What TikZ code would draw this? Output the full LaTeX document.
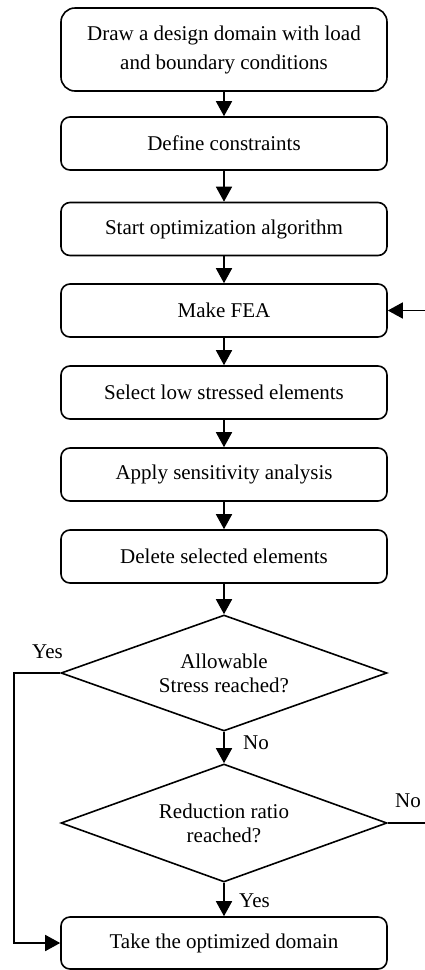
\documentclass[tikz,border=0pt]{standalone}
\usepackage{fontspec}
\setmainfont{Liberation Serif}
\usetikzlibrary{shapes.geometric,arrows.meta}
\begin{document}
\begin{tikzpicture}[x=1pt,y=-1pt,
  every node/.style={font=\fontsize{21}{29}\selectfont},
  box/.style={draw, line width=1.6pt, rounded corners=9pt, minimum width=326pt, minimum height=53pt, inner sep=0pt, align=center},
  dec/.style={draw, diamond, shape aspect=2.8, line width=1.6pt, minimum width=326pt, minimum height=116pt, inner sep=0pt, align=center, font=\fontsize{21}{24}\selectfont},
  arr/.style={line width=1.6pt, -{Triangle[length=15pt,width=16pt]}},
  lbl/.style={inner sep=0pt, anchor=base west}]
\useasboundingbox (0,0) rectangle (424,970);
\node[box, minimum height=83pt, rounded corners=14pt] (b1) at (224,49.5) {Draw a design domain with load\\and boundary conditions};
\node[box] (b2) at (224,143.5) {Define constraints};
\node[box] (b3) at (224,229) {Start optimization algorithm};
\node[box] (b4) at (224,310.5) {Make FEA};
\node[box] (b5) at (224,392.5) {Select low stressed elements};
\node[box] (b6) at (224,474.5) {Apply sensitivity analysis};
\node[box] (b7) at (224,556.5) {Delete selected elements};
\node[dec] (d1) at (224,673) {Allowable\\Stress reached?};
\node[dec, minimum height=118pt] (d2) at (224,823) {Reduction ratio\\reached?};
\node[box, minimum height=52pt] (b8) at (224,943) {Take the optimized domain};
\coordinate (lx) at (14,0);
\coordinate (rx) at (430,0);
\draw[arr] (b1) -- (b2);
\draw[arr] (b2) -- (b3);
\draw[arr] (b3) -- (b4);
\draw[arr] (b4) -- (b5);
\draw[arr] (b5) -- (b6);
\draw[arr] (b6) -- (b7);
\draw[arr] (b7) -- (d1);
\draw[arr] (d1) -- (d2);
\draw[arr] (d2) -- (b8);
\draw[arr] (d1.west) -- (d1.west -| lx) |- (b8.west);
\draw[arr] (d2.east) -- (d2.east -| rx) |- (b4.east);
\node[lbl] (yes1) at (32,658) {Yes};
\node[lbl] (no1) at (243,749) {No};
\node[lbl] (no2) at (395,807) {No};
\node[lbl] (yes2) at (239,907) {Yes};
\end{tikzpicture}
\end{document}
